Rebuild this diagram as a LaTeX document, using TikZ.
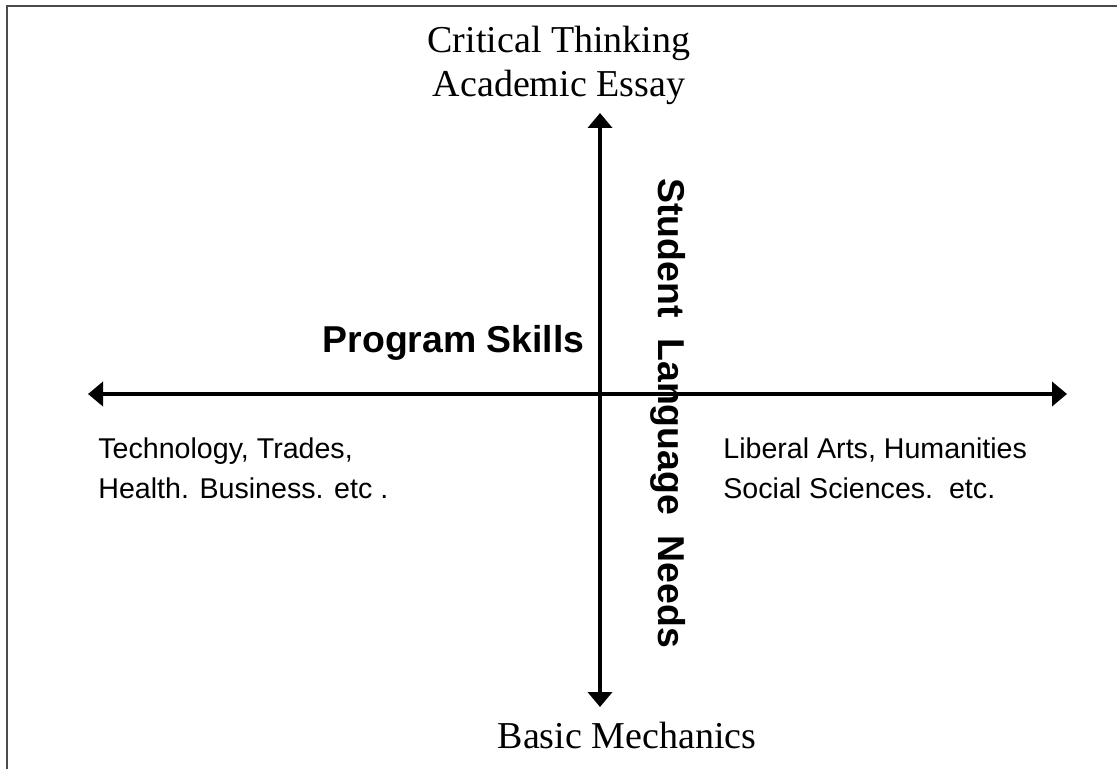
\documentclass[tikz,border=0pt]{standalone}
\usepackage{fontspec}
\setmainfont{Liberation Serif}
\setsansfont{Liberation Sans}
\usetikzlibrary{arrows.meta}

\begin{document}
\begin{tikzpicture}[x=0.5pt,y=-0.5pt,
    achse/.style={line width=2pt,
        {Triangle[length=7.5pt,width=12pt]}-{Triangle[length=7.5pt,width=12pt]}},
    pol/.style={inner sep=0pt,align=center,font=\fontsize{19}{22}\selectfont},
    fach/.style={inner sep=0pt,align=left,font=\sffamily\fontsize{14.3}{20}\selectfont},
    kopf/.style={inner sep=0pt,font=\sffamily\bfseries\fontsize{18.7}{22}\selectfont}]
    \useasboundingbox (0,0) rectangle (1117,769);

    % Achsenkreuz (Pixelmass)
    \def\cx{600}
    \def\cy{394}

    % Rahmen
    \draw[gray!60!black, line width=1pt] (7,769) -- (7,6) -- (1117,6);

    % Endpunkte der Achsen
    \coordinate (links) at (88,\cy);
    \coordinate (rechts) at (1067,\cy);
    \coordinate (oben) at (\cx,113);
    \coordinate (unten) at (\cx,707);

    \draw[achse] (links) -- (rechts);
    \draw[achse] (oben) -- (unten);

    % Beschriftungen (Anker: Grundlinie der letzten Zeile)
    \node[pol, anchor=base] (denken) at (559,97) {Critical Thinking\\Academic Essay};
    \node[pol, anchor=base] (mechanik) at (627,748) {Basic Mechanics};
    \node[kopf, anchor=base east] (programm) at (585,353) {Program Skills};
    \node[kopf, anchor=base west, rotate=-90] (sprache) at (658,178) {Student\ \ Language\ \ Needs};
    \node[fach, anchor=base west] (technik) at (98,498) {Technology, Trades,\\Health. Business. etc .};
    \node[fach, anchor=base west] (geist) at (723,498) {Liberal Arts, Humanities\\Social Sciences.\ \ etc.};
\end{tikzpicture}
\end{document}
